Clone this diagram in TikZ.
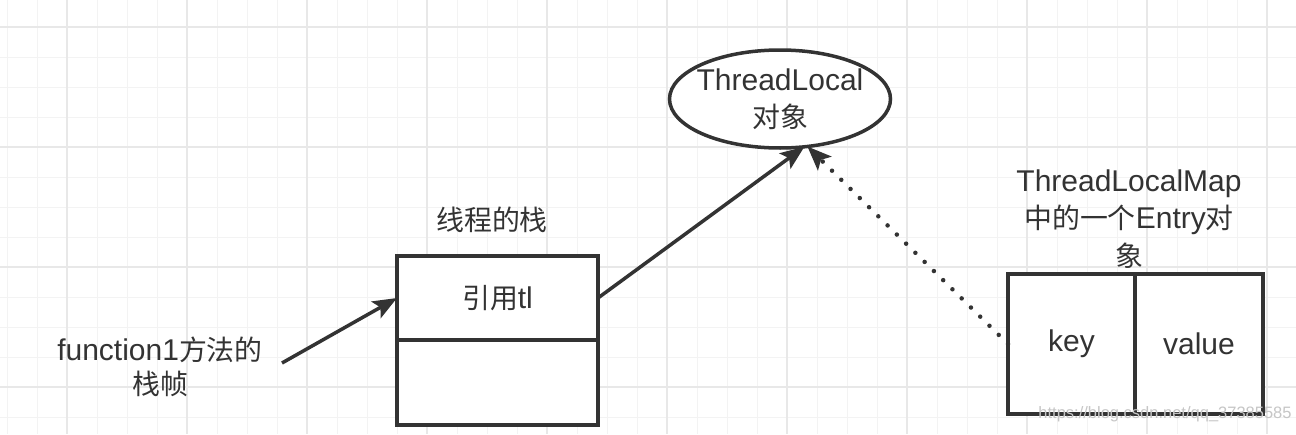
\documentclass[tikz,border=0pt]{standalone}
\usepackage{fontspec}
\setmainfont{Liberation Sans}
\newfontfamily\cjk{Noto Sans CJK SC}[Scale=0.93]
\usetikzlibrary{positioning,shapes.geometric,arrows.meta}

\definecolor{ink}{HTML}{333333}
\definecolor{gridminor}{HTML}{F3F3F3}
\definecolor{gridmajor}{HTML}{E8E8E8}

\tikzset{
	box/.style={draw=ink,line width=3.5pt,inner sep=0pt,outer sep=0pt,
		text=ink,font=\fontsize{30}{37}\selectfont},
	lbl/.style={text=ink,align=center,inner sep=0pt,font=\fontsize{30}{37.5}\selectfont},
	arr/.style={draw=ink,line width=3.5pt,-{Stealth[length=24pt,width=19pt,inset=5pt]}},
	dots/.style={line width=4.5pt,line cap=round,dash pattern=on 0pt off 13pt}
}

\begin{document}
\begin{tikzpicture}[x=1pt,y=-1pt]
	\useasboundingbox[fill=white] (0,0) rectangle (1296,434);
	% background grid
	\foreach \x in {7,37,...,1297}
	\draw[gridminor,line width=1pt] (\x,0) -- (\x,434);
	\foreach \y in {27,57,...,417}
	\draw[gridminor,line width=1pt] (0,\y) -- (1296,\y);
	\foreach \x in {67,187,...,1267}
	\draw[gridmajor,line width=1.5pt] (\x,0) -- (\x,434);
	\foreach \y in {27,147,267,387}
	\draw[gridmajor,line width=1.5pt] (0,\y) -- (1296,\y);

	% ThreadLocal object
	\node[box,ellipse,inner xsep=-6pt,minimum width=221pt,minimum height=98pt,align=center,fill=white]
		(tl) at (780,99) {ThreadLocal\\{\cjk 对象}};

	% stack of the thread
	\node[box,fill=white,minimum width=201pt,minimum height=84pt] (ref) at (497.5,298) {{\cjk 引用}tl};
	\node[box,fill=white,minimum width=201pt,minimum height=85pt,below=0pt of ref] (frame) {};
	\node[lbl] (stacklbl) at (492,220) {\cjk 线程的栈};

	% entry of the map
	\node[box,fill=white,minimum width=127pt,minimum height=140pt] (key) at (1071.5,344) {\raisebox{-4pt}{key}};
	\node[box,fill=white,minimum width=128pt,minimum height=140pt,right=0pt of key] (val) {\raisebox{-2pt}{value}};
	\node[lbl] (maplbl) at (1129,219) {ThreadLocalMap\\{\cjk 中的一个}Entry{\cjk 对}\\{\cjk 象}};

	% stack frame label
	\node[lbl,font=\fontsize{30}{34}\selectfont] (fnlbl) at (160,367) {function1{\cjk 方法的}\\{\cjk 栈帧}};
	\coordinate (fnend) at (282,363);

	% references
	\draw[arr] (fnend) -- (ref.west);
	\draw[arr] (ref.east) -- (tl.-63);
	\draw[arr,dots] (key.west) -- (tl.-60);

	% watermark
	\node[text=gray!45,inner sep=0pt,font=\fontsize{16.5}{18}\selectfont] (mark) at (1165,414) {https://blog.csdn.net/qq\_37385585};
\end{tikzpicture}
\end{document}
